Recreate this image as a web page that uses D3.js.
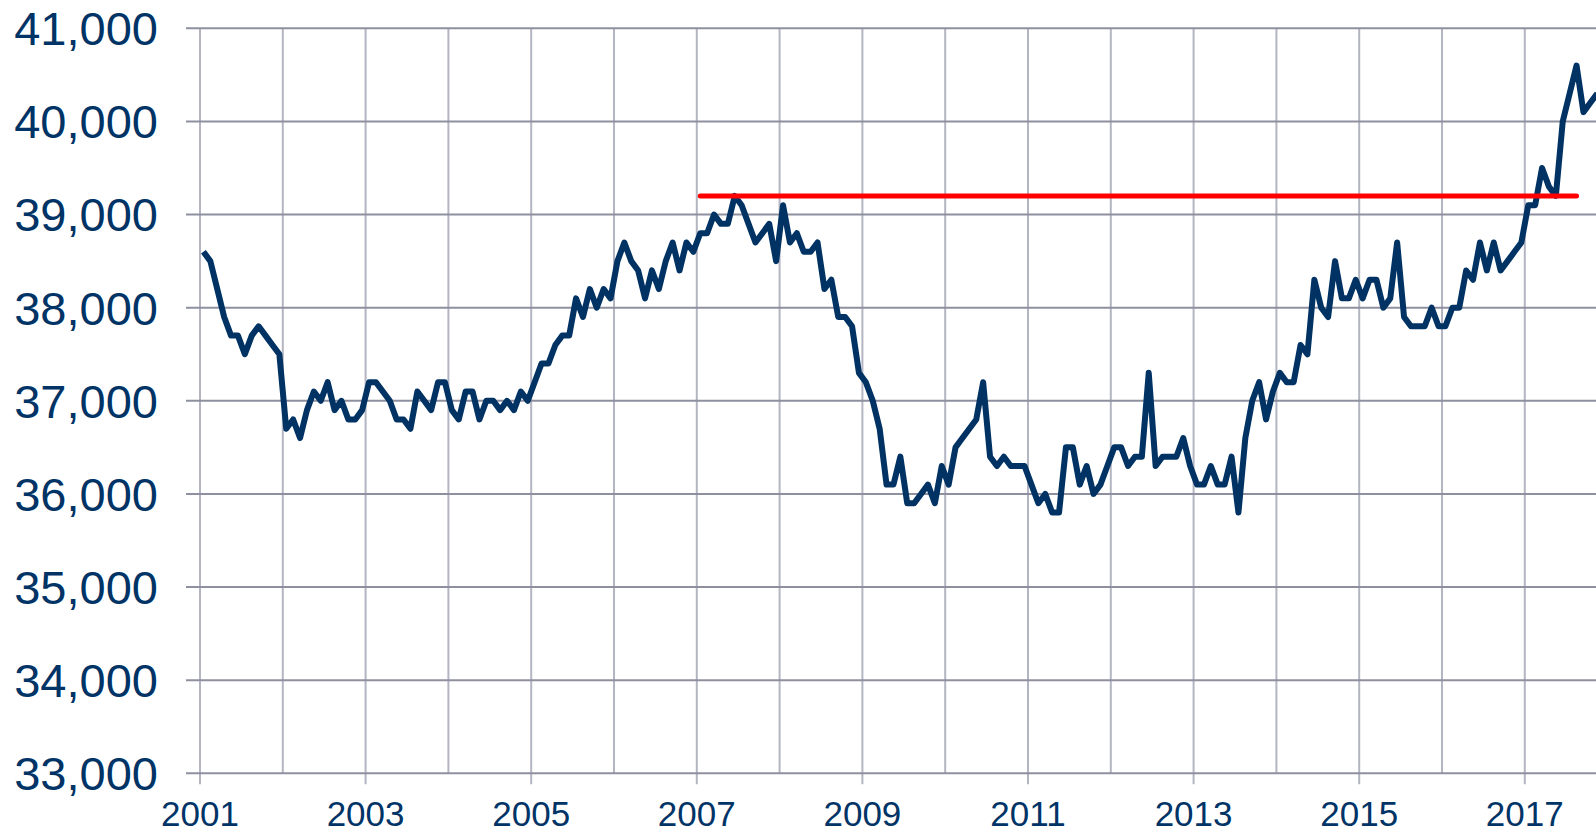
<!DOCTYPE html>
<html>
<head>
<meta charset="utf-8">
<script src="https://cdn.jsdelivr.net/npm/d3@7/dist/d3.min.js"></script>
<style>
  body { margin: 0; background: #fff; }
  svg { display: block; font-family: "Liberation Sans", Arial, sans-serif; }
</style>
</head>
<body>
<div id="chart"></div>
<script>
// monthly values, Jan 2001 onward
var startYear = 2001;
var values = [
  38600, 38500, 38200, 37900, 37700, 37700, 37500, 37700, 37800, 37700, 37600, 37500,
  36700, 36800, 36600, 36900, 37100, 37000, 37200, 36900, 37000, 36800, 36800, 36900,
  37200, 37200, 37100, 37000, 36800, 36800, 36700, 37100, 37000, 36900, 37200, 37200,
  36900, 36800, 37100, 37100, 36800, 37000, 37000, 36900, 37000, 36900, 37100, 37000,
  37200, 37400, 37400, 37600, 37700, 37700, 38100, 37900, 38200, 38000, 38200, 38100,
  38500, 38700, 38500, 38400, 38100, 38400, 38200, 38500, 38700, 38400, 38700, 38600,
  38800, 38800, 39000, 38900, 38900, 39200, 39100, 38900, 38700, 38800, 38900, 38500,
  39100, 38700, 38800, 38600, 38600, 38700, 38200, 38300, 37900, 37900, 37800, 37300,
  37200, 37000, 36700, 36100, 36100, 36400, 35900, 35900, 36000, 36100, 35900, 36300,
  36100, 36500, 36600, 36700, 36800, 37200, 36400, 36300, 36400, 36300, 36300, 36300,
  36100, 35900, 36000, 35800, 35800, 36500, 36500, 36100, 36300, 36000, 36100, 36300,
  36500, 36500, 36300, 36400, 36400, 37300, 36300, 36400, 36400, 36400, 36600, 36300,
  36100, 36100, 36300, 36100, 36100, 36400, 35800, 36600, 37000, 37200, 36800, 37100,
  37300, 37200, 37200, 37600, 37500, 38300, 38000, 37900, 38500, 38100, 38100, 38300,
  38100, 38300, 38300, 38000, 38100, 38700, 37900, 37800, 37800, 37800, 38000, 37800,
  37800, 38000, 38000, 38400, 38300, 38700, 38400, 38700, 38400, 38500, 38600, 38700,
  39100, 39100, 39500, 39300, 39200, 40000, 40300, 40600, 40100, 40200, 40300
];

// reference level (2007 peak) from Jan 2007 to Aug 2017
var refValue = 39200;
var refStart = 72, refEnd = 199;

var yTicks = [33000, 34000, 35000, 36000, 37000, 38000, 39000, 40000, 41000];
var gridYears = d3.range(2001, 2018);
var labelYears = [2001, 2003, 2005, 2007, 2009, 2011, 2013, 2015, 2017];

var W = 1596, H = 834;
var margin = { top: 28.3, right: 0, bottom: 60.7, left: 200 };
var width = W - margin.left - margin.right,
    height = H - margin.top - margin.bottom;

var svg = d3.select("#chart")
  .append("svg")
  .attr("width", W)
  .attr("height", H)
  .append("g")
  .attr("transform", "translate(" + margin.left + "," + margin.top + ")");

var x = d3.scaleLinear()
  .domain([2001, 2017.86])
  .range([0, width]);

var y = d3.scaleLinear()
  .domain([33000, 41000])
  .range([height, 0]);

function monthPos(k) { return startYear + (k + 0.5) / 12; }

// vertical grid (labelled years get a tick below the axis)
svg.append("g")
  .selectAll("line")
  .data(gridYears)
  .enter()
  .append("line")
  .attr("x1", function (d) { return x(d); })
  .attr("x2", function (d) { return x(d); })
  .attr("y1", 0)
  .attr("y2", function (d) { return labelYears.indexOf(d) > -1 ? height + 11 : height; })
  .attr("stroke", "#b3b5c2")
  .attr("stroke-width", 2);

// horizontal grid
svg.append("g")
  .selectAll("line")
  .data(yTicks)
  .enter()
  .append("line")
  .attr("x1", -14)
  .attr("x2", width)
  .attr("y1", function (d) { return y(d); })
  .attr("y2", function (d) { return y(d); })
  .attr("stroke", "#8e909f")
  .attr("stroke-width", 2);

// y labels
svg.append("g")
  .selectAll("text")
  .data(yTicks)
  .enter()
  .append("text")
  .attr("x", -42)
  .attr("y", function (d) { return y(d); })
  .attr("dy", "0.36em")
  .attr("text-anchor", "end")
  .attr("fill", "#003366")
  .style("font-size", "47px")
  .text(d3.format(","));

// x labels
svg.append("g")
  .selectAll("text")
  .data(labelYears)
  .enter()
  .append("text")
  .attr("x", function (d) { return x(d); })
  .attr("y", height + 52.7)
  .attr("text-anchor", "middle")
  .attr("fill", "#003366")
  .style("font-size", "35px")
  .text(function (d) { return d; });

svg.append("clipPath")
  .attr("id", "plot")
  .append("rect")
  .attr("x", 0).attr("y", -10)
  .attr("width", width).attr("height", height + 20);

// main series
var line = d3.line()
  .x(function (d, i) { return x(monthPos(i)); })
  .y(function (d) { return y(d); });

svg.append("path")
  .datum(values)
  .attr("clip-path", "url(#plot)")
  .attr("fill", "none")
  .attr("stroke", "#003363")
  .attr("stroke-width", 6)
  .attr("stroke-linejoin", "round")
  .attr("d", line);

// red reference line
svg.append("line")
  .attr("x1", x(monthPos(refStart)))
  .attr("x2", x(monthPos(refEnd)))
  .attr("y1", y(refValue))
  .attr("y2", y(refValue))
  .attr("stroke", "#ff0000")
  .attr("stroke-width", 5)
  .attr("stroke-linecap", "round");
</script>
</body>
</html>
